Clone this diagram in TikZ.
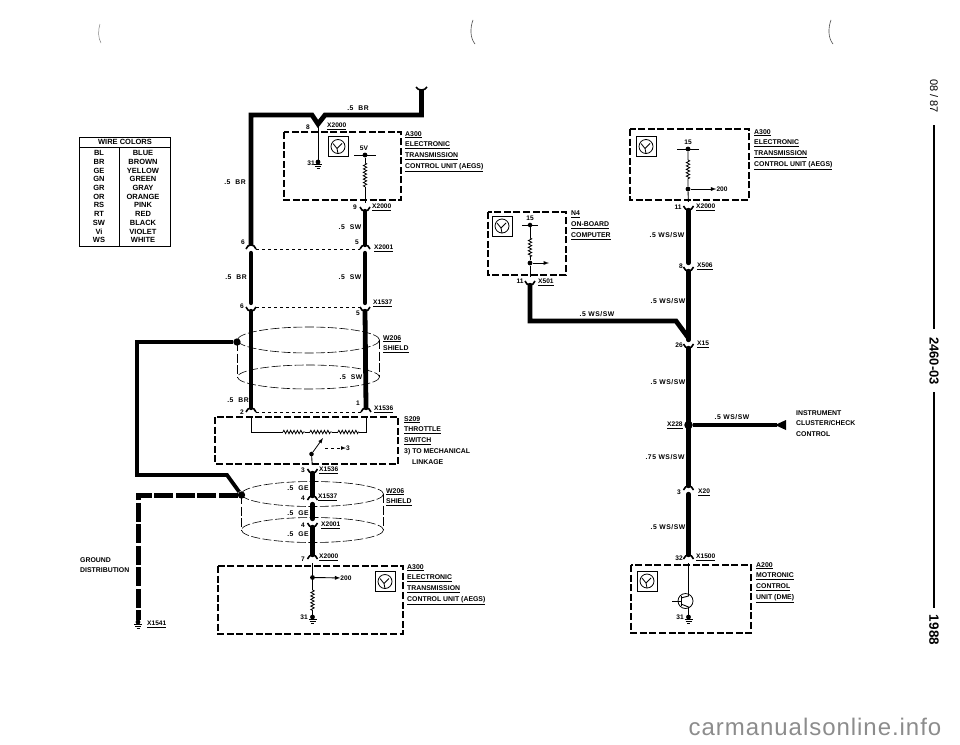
\documentclass[tikz,border=0pt]{standalone}
\usepackage{fontspec}
\setmainfont{Liberation Sans}
\newfontfamily\wirefont[LetterSpace=8]{Liberation Sans}
\newfontfamily\sitefont[LetterSpace=4]{Liberation Sans}
\usetikzlibrary{decorations.pathmorphing}
\newcommand{\wsw}{WS/SW}
\tikzset{
  wire/.style={line width=4.8pt,line cap=round},
  thinwire/.style={line width=0.9pt},
  boxline/.style={line width=1.7pt,dash pattern=on 7pt off 2.6pt},
  shield/.style={line width=0.6pt,dash pattern=on 9pt off 2.5pt},
  resist/.style={line width=0.8pt,decorate,decoration={zigzag,segment length=3.4pt,amplitude=1.7pt}},
  plugbox/.style={inner sep=0pt,minimum width=10pt,minimum height=8pt},
  plugline/.style={line width=1.6pt},
  lbl/.style={inner sep=0pt,anchor=north west,align=left,font=\fontsize{6.9}{10.9}\selectfont\bfseries},
  pin/.style={inner sep=0pt,font=\fontsize{6.6}{7}\selectfont\bfseries},
  tabtxt/.style={inner sep=0pt,text height=5.4pt,text depth=0pt,font=\fontsize{7.5}{8}\selectfont\bfseries},
  sizelbl/.style={inner sep=0pt,font=\wirefont\fontsize{6.8}{8}\selectfont\bfseries},
  xlbl/.style={inner sep=0pt,anchor=west,font=\fontsize{6.6}{7}\selectfont\bfseries},
  plugarch/.pic={\draw[plugline] (-5,0) .. controls (-4,-3) and (-2,-4) .. (0,-4) .. controls (2,-4) and (4,-3) .. (5,0);},
  plugcup/.pic={\draw[plugline] (-5,0) .. controls (-4,3) and (-2,4) .. (0,4) .. controls (2,4) and (4,3) .. (5,0);},
  ecubox/.pic={
    \draw[line width=0.9pt] (-10,-10) rectangle (10,10);
    \draw[line width=0.8pt] (0,0) circle (7);
    \draw[line width=0.8pt] (-5,-3) -- (-1,2) -- (4,-3) (-1,2) -- (0,7);
  },
  gnd/.pic={
    \fill (0,0) circle (2.4);
    \draw[line width=0.7pt] (-4,2.5) -- (4,2.5) (-3,4.5) -- (3,4.5) (-1.5,6.5) -- (1.5,6.5);
  },
}
\newcommand{\plugat}[3]{\node[plugbox] (#1) at (#2) {}; \pic at (#1) {#3};}
\begin{document}
\begin{tikzpicture}[x=1pt,y=-1pt]
  \useasboundingbox (0,0) rectangle (960,744);

  % wire colour table
  \draw[line width=0.8pt] (79,137) rectangle (170,246);
  \draw[line width=0.8pt] (79,147) -- (170,147) (119,147) -- (119,246);
  \node[tabtxt] (tabhead) at (125,142) {WIRE COLORS};
  \foreach \code/\word [count=\i] in {BL/BLUE,BR/BROWN,GE/YELLOW,GN/GREEN,GR/GRAY,OR/ORANGE,RS/PINK,RT/RED,SW/BLACK,Vi/VIOLET,WS/WHITE}
    \node[tabtxt] (tc\i) at (99,144.6+8.67*\i) {\code} node[tabtxt] (tw\i) at (143,144.6+8.67*\i) {\word};

  % shields
  \draw[shield] (308.5,340) ellipse (71 and 13);
  \draw[shield] (308.5,377) ellipse (71 and 12);
  \draw[shield] (237.5,342) -- (237.5,377) (379.5,340) -- (379.5,377);
  \draw[shield] (312.5,494) ellipse (71 and 12.5);
  \draw[shield] (312.5,530) ellipse (71 and 12.5);
  \draw[shield] (241.5,495) -- (241.5,530) (383.5,494) -- (383.5,530);

  % left column
  \plugat{pa}{251,249}{plugarch}
  \plugat{pb}{365,249}{plugarch}
  \plugat{pc}{251,307}{plugcup}
  \plugat{pd}{365,307}{plugcup}
  \plugat{pe}{365,207}{plugcup}
  \plugat{pf}{251,412}{plugarch}
  \plugat{pg}{366,412}{plugarch}
  \plugat{ph}{312.5,469}{plugcup}
  \plugat{pi}{312.5,500}{plugarch}
  \plugat{pj}{312.5,523}{plugcup}
  \plugat{pk}{312.5,559}{plugarch}

  \coordinate (feed) at (421.5,90);
  \coordinate (turn) at (421.5,115);
  \coordinate (corn) at (251,115);
  \coordinate (vl) at (312,115);
  \coordinate (vm) at (318,124);
  \coordinate (vr) at (325,115);
  \draw[wire,line cap=butt,line join=miter] (feed) -- (turn) -- (vr) -- (vm) -- (vl) -- (corn) -- (pa.north);
  \draw[plugline] (416,87) .. controls (418,91) and (425,91) .. (427,87);
  \draw[wire] (pb.south) -- (pd.north);
  \draw[wire] (pa.south) -- (pc.north);
  \draw[wire] (pc.south) -- (pf.north);
  \draw[wire] (pe.south) -- (pb.north);
  \draw[wire] (pd.south) -- (pg.north);
  \draw[wire] (ph.south) -- (pi.north);
  \draw[wire] (pi.south) -- (pj.north);
  \draw[wire] (pj.south) -- (pk.north);
  \draw[thinwire,dashed] (pa) -- (pb);
  \draw[thinwire,dashed] (pc) -- (pd);
  \draw[thinwire,dashed] (pf) -- (pg);

  % shield grounds
  \node[circle,fill,inner sep=2.6pt] (sa) at (237,342) {};
  \node[circle,fill,inner sep=2.6pt] (sb) at (241.5,495) {};
  \coordinate (ga) at (137,342);
  \coordinate (gb) at (137,475);
  \coordinate (gc) at (227,475);
  \draw[line width=3.8pt,line join=miter] (sa) -- (ga) -- (gb) -- (gc) -- (sb);
  \coordinate (gd) at (138,495);
  \node[inner sep=0pt,minimum size=3pt] (ge) at (138,622) {};
  \draw[line width=5pt,dash pattern=on 19pt off 2.5pt] (sb) -- (gd) -- (ge);
  \pic at (ge) {gnd};

  % A300 top
  \draw[boxline] (284,132) rectangle (401,200);
  \pic at (338,146.5) {ecubox};
  \node[circle,fill,inner sep=1.7pt] (va) at (365,155) {};
  \coordinate (ra) at (365,163);
  \coordinate (rb) at (365,187);
  \draw[line width=0.8pt] (354,155) -- (376,155);
  \draw[thinwire] (va) -- (ra) (rb) -- (pe);
  \draw[resist] (ra) -- (rb);
  \coordinate (gt) at (318,162);
  \draw[thinwire] (vm) -- (gt);
  \pic at (gt) {gnd};

  % throttle switch
  \draw[boxline] (215,417) rectangle (398,464);
  \coordinate (ta) at (251,432);
  \coordinate (tb) at (283,432);
  \coordinate (tc) at (305,432);
  \coordinate (td) at (310,432);
  \coordinate (te) at (332,432);
  \coordinate (tf) at (338,432);
  \coordinate (tg) at (359,432);
  \coordinate (th) at (366,432);
  \draw[line width=0.8pt] (pf) -- (ta) -- (tb) (tc) -- (td) (te) -- (tf) (tg) -- (th) -- (pg);
  \draw[resist] (tb) -- (tc);
  \draw[resist] (td) -- (te);
  \draw[resist] (tf) -- (tg);
  \node[circle,fill,inner sep=1.6pt] (wiper) at (311.5,454) {};
  \draw[line width=0.8pt,-latex] (wiper) -- (323,438);
  \draw[thinwire] (wiper) -- (ph);
  \node[pin] (tpin) at (348,448) {3};
  \draw[line width=0.7pt,dashed,-latex] (325,448) -- (tpin);

  % A300 bottom
  \draw[boxline] (218,566) rectangle (403,634);
  \pic at (385,581.5) {ecubox};
  \node[circle,fill,inner sep=1.7pt] (vb) at (312.5,577.5) {};
  \node[pin] (bpin) at (346,578) {200};
  \draw[thinwire,-latex] (vb) -- (bpin);
  \coordinate (rc) at (312.5,590);
  \coordinate (rd) at (312.5,612);
  \coordinate (gu) at (312.5,617);
  \draw[thinwire] (pk) -- (vb) -- (rc) (rd) -- (gu);
  \draw[resist] (rc) -- (rd);
  \pic at (gu) {gnd};

  % A300 right
  \draw[boxline] (630,129) rectangle (749,200);
  \pic at (646,146.5) {ecubox};
  \node[circle,fill,inner sep=1.7pt] (vc) at (688,149) {};
  \draw[line width=0.8pt] (677,149) -- (699,149);
  \coordinate (re) at (688,160);
  \coordinate (rf) at (688,180);
  \node[circle,fill,inner sep=1.7pt] (vd) at (688,189) {};
  \node[pin] (rpin) at (722,189) {200};
  \plugat{qa}{688.5,206}{plugcup}
  \plugat{qb}{688.5,267}{plugcup}
  \plugat{qc}{688.5,344}{plugcup}
  \plugat{qd}{688.5,490}{plugarch}
  \plugat{qe}{688.5,559}{plugarch}
  \draw[thinwire] (vc) -- (re) (rf) -- (vd) -- (qa);
  \draw[resist] (re) -- (rf);
  \draw[thinwire,-latex] (vd) -- (rpin);
  \draw[wire] (qa.south) -- (qb.north);
  \node[circle,fill,inner sep=3pt] (xj) at (688.5,425) {};
  \draw[wire] (qb.south) -- (qc.north);
  \draw[wire] (qc.south) -- (qd.north);
  \draw[wire] (qd.south) -- (qe.north);
  \coordinate (arrowend) at (777,425);
  \draw[line width=4.2pt] (xj) -- (arrowend);
  \fill (775,425) -- (786,420) -- (786,430) -- cycle;

  % N4
  \draw[boxline] (488,212) rectangle (566,275);
  \pic at (502,226) {ecubox};
  \node[circle,fill,inner sep=1.6pt] (ve) at (530,225) {};
  \draw[line width=0.8pt] (522,225) -- (538,225);
  \coordinate (rg) at (530,238);
  \coordinate (rh) at (530,257);
  \node[circle,fill,inner sep=1.7pt] (vf) at (530,263) {};
  \plugat{qf}{530,281}{plugcup}
  \draw[thinwire] (ve) -- (rg) (rh) -- (vf) -- (qf);
  \draw[resist] (rg) -- (rh);
  \draw[thinwire,-latex] (vf) -- (549,263);
  \coordinate (na) at (530,321);
  \coordinate (nb) at (676,321);
  \coordinate (nc) at (688.5,338);
  \draw[wire,line join=miter] (qf.south) -- (na) -- (nb) -- (nc);

  % A200
  \draw[boxline] (631,565) rectangle (751,633);
  \pic at (647,581) {ecubox};
  \node[circle,draw,line width=0.8pt,minimum size=15pt,inner sep=0pt] (qt) at (685.5,601) {};
  \draw[line width=0.8pt] (672,601) -- (681,601) (681,596) -- (681,606);
  \draw[thinwire] (qe) -- (688.5,596) -- (681,598);
  \coordinate (gv) at (688.5,617);
  \draw[thinwire] (681,604) -- (688.5,607) -- (gv);
  \pic at (gv) {gnd};

  % labels
  \node[lbl] (t300a) at (405,131) {\underline{A300}\\\underline{ELECTRONIC}\\\underline{TRANSMISSION}\\\underline{CONTROL UNIT (AEGS)}};
  \node[lbl] (t300b) at (754,129) {\underline{A300}\\\underline{ELECTRONIC}\\\underline{TRANSMISSION}\\\underline{CONTROL UNIT (AEGS)}};
  \node[lbl] (t300c) at (407,564) {\underline{A300}\\\underline{ELECTRONIC}\\\underline{TRANSMISSION}\\\underline{CONTROL UNIT (AEGS)}};
  \node[lbl] (tn4) at (571,211) {\underline{N4}\\\underline{ON-BOARD}\\\underline{COMPUTER}};
  \node[lbl] (ts209) at (404,416) {\underline{S209}\\\underline{THROTTLE}\\\underline{SWITCH}\\3) TO MECHANICAL\\\hspace*{8pt}LINKAGE};
  \node[lbl] (tw1) at (383,335) {\underline{W206}\\\underline{SHIELD}};
  \node[lbl] (tw2) at (386,488) {\underline{W206}\\\underline{SHIELD}};
  \node[lbl] (tgd) at (80,557) {GROUND\\DISTRIBUTION};
  \node[lbl] (tic) at (796,410) {INSTRUMENT\\CLUSTER/CHECK\\CONTROL};
  \node[lbl] (t200) at (756,562) {\underline{A200}\\\underline{MOTRONIC}\\\underline{CONTROL}\\\underline{UNIT (DME)}};

  % wire sizes and pin numbers
  \foreach \xx/\yy/\txt [count=\i] in {358/108/.5\ \ BR,235/182/.5\ \ BR,350/227/.5\ \ SW,236/277/.5\ \ BR,350/277/.5\ \ SW,
    351/377/.5\ \ SW,238/400/.5\ \ BR,298/488/.5\ \ GE,298/513/.5\ \ GE,298/534/.5\ \ GE,
    597/314/.5 \wsw,667/235/.5 \wsw,668/301/.5 \wsw,668/382/.5 \wsw,
    732/417/.5 \wsw,665/457/.75 \wsw,668/527/.5 \wsw}
    \node[sizelbl] (sz\i) at (\xx,\yy) {\txt};
  \foreach \xx/\yy/\txt [count=\i] in {308/127/8,243/242/6,357/242/5,242/306/6,358/313/5,355/207/9,311/163/31,364/148/5V,
    242/412/2,358/403/1,303/470/3,303/498/4,303/525/4,303/559/7,304/617/31,688/142/15,530/218/15,
    678/207/11,520/281/11,681/266/8,679/345/26,679/492/3,679/558/32,680/617/31}
    \node[pin] (nr\i) at (\xx,\yy) {\txt};
  \foreach \xx/\yy/\txt [count=\i] in {327/126/X2000,372/207/X2000,374/248/X2001,373/303/X1537,374/409/X1536,319/470/X1536,
    318/497/X1537,321/525/X2001,319/557/X2000,147/624/X1541,696/207/X2000,538/282/X501,697/266/X506,697/344/X15,
    667/425/X228,698/492/X20,696/557/X1500}
    \node[xlbl] (xc\i) at (\xx,\yy) {\underline{\txt}};

  % page margin
  \node[rotate=-90,inner sep=0pt,font=\fontsize{11}{12}\selectfont] (pdate) at (934,96) {08 / 87};
  \node[rotate=-90,inner sep=0pt,font=\fontsize{13}{14}\selectfont\bfseries] (pcode) at (934,361) {2460-03};
  \node[rotate=-90,inner sep=0pt,font=\fontsize{13.5}{14}\selectfont\bfseries] (pyear) at (934,630) {1988};
  \draw[line width=1.3pt] ([yshift=-12pt]pdate.east) -- ([yshift=8pt]pcode.west);
  \draw[line width=1.3pt] ([yshift=-7pt]pcode.east) -- ([yshift=7pt]pyear.west);

  % scan marks
  \draw[line width=0.5pt,gray] (100,24) .. controls (98,30) and (98,38) .. (101,43);
  \draw[line width=0.6pt,black!70] (473,20) .. controls (470,28) and (470,38) .. (475,44);
  \draw[line width=0.6pt,black!70] (831,20) .. controls (828,28) and (828,38) .. (833,44);

  \node[inner sep=0pt,anchor=base,text=black!45,font=\sitefont\fontsize{24}{26}\selectfont] (site) at (815,735) {carmanualsonline.info};
\end{tikzpicture}
\end{document}
